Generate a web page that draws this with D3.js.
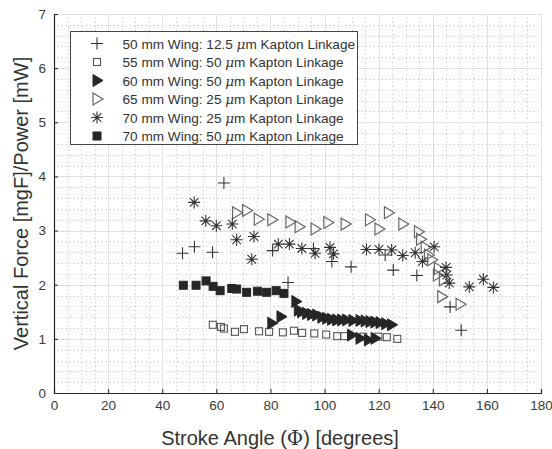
<!DOCTYPE html>
<html><head><meta charset="utf-8">
<script src="https://cdn.jsdelivr.net/npm/d3@7"></script>
<style>body{margin:0;background:#fff}svg{display:block}</style>
</head><body>
<svg id="c" width="552" height="449"></svg>
<script>
const xTicks = [0,20,40,60,80,100,120,140,160,180];
const yTicks = [0,1,2,3,4,5,6,7];
const legendWings = ["50 mm Wing: 12.5 ", "55 mm Wing: 50 ", "60 mm Wing: 50 ", "65 mm Wing: 25 ", "70 mm Wing: 25 ", "70 mm Wing: 50 "];
const legendTail = "m Kapton Linkage";
const s1x = [47.5, 51.9, 58.6, 62.8, 80.8, 86.5, 95.9, 102.7, 109.8, 122.4, 125.4, 134.1, 146.4, 150.5];
const s1y = [2.58, 2.70, 2.60, 3.88, 2.63, 2.04, 2.67, 2.43, 2.33, 2.55, 2.27, 2.17, 1.59, 1.16];
const s2x = [58.7, 61.7, 62.8, 66.9, 70.2, 75.8, 79.5, 84.6, 88.7, 91.7, 96.2, 100.6, 104.7, 107.2, 114.3, 119.9, 123, 126.9];
const s2y = [1.26, 1.22, 1.19, 1.13, 1.18, 1.14, 1.13, 1.12, 1.15, 1.11, 1.10, 1.08, 1.05, 1.05, 1.04, 1.04, 1.03, 1.00];
const s3x = [80.5, 83.9, 89.4, 90.3, 91.5, 93.4, 95.2, 97.1, 99, 100.8, 102.6, 104.5, 106.3, 108.2, 110.5, 113.1, 115, 116.8, 118.6, 120.5, 122.6, 124.8, 110, 113.1, 116.2, 118.7];
const s3y = [1.29, 1.41, 1.69, 1.53, 1.50, 1.47, 1.45, 1.44, 1.40, 1.38, 1.36, 1.35, 1.35, 1.35, 1.34, 1.34, 1.33, 1.32, 1.31, 1.30, 1.28, 1.26, 1.07, 1.01, 0.98, 1.01];
const s4x = [67.5, 71.2, 75.5, 80.5, 87.2, 90.6, 96.5, 101.2, 107.6, 116.6, 120.1, 123.6, 128.9, 134.7, 135.5, 137.2, 138.4, 139.6, 142.1, 141.7, 143.9, 143.3, 150.1];
const s4y = [3.33, 3.37, 3.21, 3.20, 3.16, 3.07, 3.03, 3.15, 3.12, 3.20, 3.03, 3.33, 3.12, 2.98, 2.84, 2.69, 2.55, 2.46, 2.30, 2.18, 2.09, 1.78, 1.64];
const s5x = [51.8, 56.1, 60.0, 65.9, 67.5, 73.9, 73.1, 82.9, 87.0, 91.6, 96.5, 102.0, 103.3, 115.5, 120.1, 124.8, 128.9, 133.5, 136.2, 140.5, 144.9, 145.2, 146.1, 153.5, 158.7, 162.4];
const s5y = [3.52, 3.18, 3.09, 3.12, 2.83, 2.89, 2.47, 2.75, 2.75, 2.67, 2.58, 2.69, 2.57, 2.65, 2.65, 2.64, 2.54, 2.59, 2.43, 2.70, 2.32, 2.18, 2.03, 1.96, 2.10, 1.95];
const s6x = [47.8, 52.5, 56.2, 58.8, 61.4, 65.7, 67.5, 71.2, 75.2, 78.6, 82.1, 85.0];
const s6y = [1.99, 1.99, 2.07, 1.97, 1.89, 1.93, 1.92, 1.86, 1.88, 1.86, 1.89, 1.84];

const series = [
  {xs:s1x, ys:s1y, m:"plus"},
  {xs:s2x, ys:s2y, m:"square"},
  {xs:s3x, ys:s3y, m:"triFill"},
  {xs:s4x, ys:s4y, m:"triOpen"},
  {xs:s5x, ys:s5y, m:"star"},
  {xs:s6x, ys:s6y, m:"squareFill"}
];

const L=54, R=541, T=14, B=393;
const x = d3.scaleLinear().domain([0,180]).range([L,R]);
const y = d3.scaleLinear().domain([0,7]).range([B,T]);
const svg = d3.select("#c");
const font = "'Liberation Sans', Arial, Helvetica, sans-serif";
const serif = "'DejaVu Serif', 'Liberation Serif', serif";

// minor grid
const g = svg.append("g");
g.selectAll(".mx").data(d3.range(0,181,5).filter(v=>v%20)).join("line")
  .attr("x1",d=>Math.round(x(d))+0.5).attr("x2",d=>Math.round(x(d))+0.5).attr("y1",T).attr("y2",B)
  .attr("stroke","#c4c4c4").attr("stroke-width",1).attr("stroke-dasharray","1,3");
g.selectAll(".my").data(d3.range(0,35).map(i=>i*0.2).filter((v,i)=>i%5)).join("line")
  .attr("y1",d=>Math.round(y(d))+0.5).attr("y2",d=>Math.round(y(d))+0.5).attr("x1",L).attr("x2",R)
  .attr("stroke","#c4c4c4").attr("stroke-width",1).attr("stroke-dasharray","1,3");
// major grid
g.selectAll(".gx").data(xTicks.slice(1)).join("line")
  .attr("x1",d=>Math.round(x(d))+0.5).attr("x2",d=>Math.round(x(d))+0.5).attr("y1",T).attr("y2",B)
  .attr("stroke","#e0e0e0").attr("stroke-width",1);
g.selectAll(".gy").data(yTicks.slice(1)).join("line")
  .attr("y1",d=>Math.round(y(d))+0.5).attr("y2",d=>Math.round(y(d))+0.5).attr("x1",L).attr("x2",R)
  .attr("stroke","#e0e0e0").attr("stroke-width",1);

// axes
const xa = svg.append("g").attr("transform",`translate(0,${B})`)
  .call(d3.axisBottom(x).tickValues(xTicks).tickSize(-4).tickPadding(7).tickFormat(d3.format("d")));
const ya = svg.append("g").attr("transform",`translate(${L},0)`)
  .call(d3.axisLeft(y).tickValues(yTicks).tickSize(-4).tickPadding(8).tickFormat(d3.format("d")));
[xa,ya].forEach(a=>{
  a.select(".domain").attr("stroke","#262626").attr("stroke-width",1.2);
  a.selectAll(".tick line").attr("stroke","#262626");
  a.selectAll("text").attr("fill","#3a3a3a").style("font-family",font).style("font-size","13.5px");
});

// markers
function drawMarker(sel, m){
  if(m==="plus"){
    sel.append("path").attr("d","M-6,0H6M0,-6V6").attr("stroke","#333").attr("stroke-width",1.1).attr("fill","none");
  } else if(m==="square"){
    sel.append("rect").attr("x",-3.5).attr("y",-3.5).attr("width",7).attr("height",7)
      .attr("fill","none").attr("stroke","#555").attr("stroke-width",1.1);
  } else if(m==="squareFill"){
    sel.append("rect").attr("x",-4).attr("y",-4).attr("width",8).attr("height",8)
      .attr("fill","#262626").attr("stroke","#262626");
  } else if(m==="triFill"){
    sel.append("path").attr("d","M-4,-6L6,0L-4,6Z").attr("fill","#262626").attr("stroke","#262626");
  } else if(m==="triOpen"){
    sel.append("path").attr("d","M-4,-6L6,0L-4,6Z").attr("fill","none").attr("stroke","#666").attr("stroke-width",1.2);
  } else if(m==="star"){
    sel.append("path").attr("d","M-6,0H6M0,-6V6M-4.3,-4.3L4.3,4.3M-4.3,4.3L4.3,-4.3")
      .attr("stroke","#333").attr("stroke-width",1.1).attr("fill","none");
  }
}
const pg = svg.append("g");
series.forEach(s=>{
  const pts = s.xs.map((v,i)=>[v,s.ys[i]]);
  pg.append("g").selectAll("g").data(pts).join("g")
    .attr("transform",d=>`translate(${x(d[0])},${y(d[1])})`)
    .each(function(){ drawMarker(d3.select(this), s.m); });
});

// legend
const lg = svg.append("g");
lg.append("rect").attr("x",70.5).attr("y",31.5).attr("width",287).attr("height",113)
  .attr("fill","#fff").attr("stroke","#444").attr("stroke-width",1);
legendWings.forEach((t,i)=>{
  const cy = 43.5 + i*18.5;
  const mg = lg.append("g").attr("transform",`translate(97,${cy})`);
  drawMarker(mg, series[i].m);
  const tx = lg.append("text").attr("x",122.5).attr("y",cy+5)
    .attr("fill","#333").style("font-family",font).style("font-size","13.6px");
  tx.append("tspan").text(t);
  tx.append("tspan").style("font-family",serif).style("font-style","italic").text("\u03bc");
  tx.append("tspan").text(legendTail);
});

// axis labels
const xl = svg.append("text").attr("x",280).attr("y",445).attr("text-anchor","middle")
  .attr("fill","#333").style("font-family",font).style("font-size","20px");
xl.append("tspan").text("Stroke Angle (");
xl.append("tspan").style("font-family",serif).text("\u03a6");
xl.append("tspan").text(") [degrees]");
svg.append("text").attr("transform","translate(28,203.5) rotate(-90)").attr("text-anchor","middle")
  .attr("fill","#333").style("font-family",font).style("font-size","20px")
  .text("Vertical Force [mgF]/Power [mW]");
</script>
</body></html>
